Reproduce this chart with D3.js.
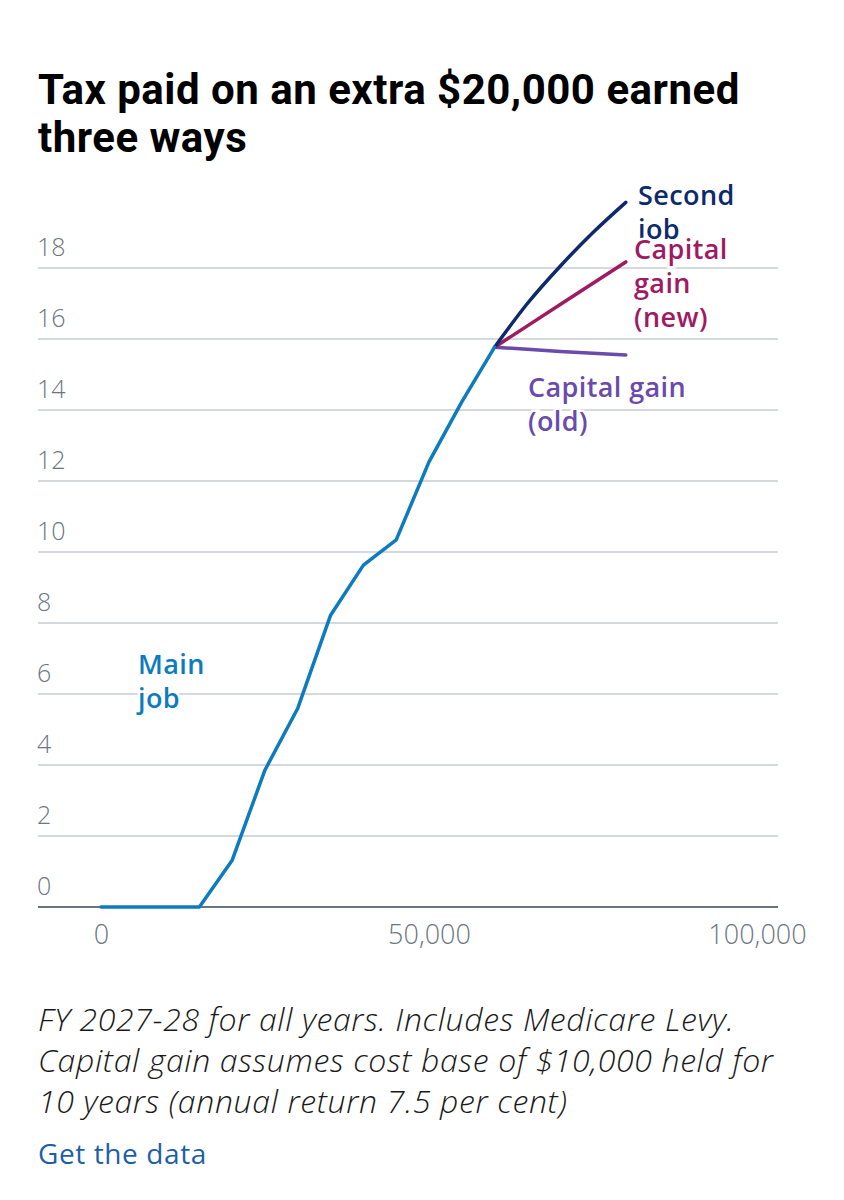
<!DOCTYPE html>
<html>
<head>
<meta charset="utf-8">
<script src="https://cdn.jsdelivr.net/npm/d3@7"></script>
<style>
  body { margin: 0; background: #fff; }
  svg text { font-family: "Open Sans", "Noto Sans", sans-serif; }
</style>
</head>
<body>
<div id="chart"></div>
<script>
// income levels (x) and tax paid on the extra $20,000, in $'000
const mainIncome = [0, 5000, 10000, 15000, 20000, 25000, 30000, 35000, 40000, 45000, 50000, 55000, 60000];
const mainTax = [0, 0, 0, 0, 1.32, 3.86, 5.6, 8.22, 9.63, 10.34, 12.54, 14.23, 15.77];

const branchIncome = [60000, 65000, 70000, 75000, 80000];
const secondJobTax = [15.77, 17.0, 18.05, 19.0, 19.85];
const capGainNewTax = [15.77, 16.37, 16.97, 17.57, 18.17];
const capGainOldTax = [15.77, 15.71, 15.65, 15.6, 15.55];

const yTicks = [0, 2, 4, 6, 8, 10, 12, 14, 16, 18];
const xTicks = [0, 50000, 100000];

const W = 844, H = 1200;
const svg = d3.select('#chart').append('svg').attr('width', W).attr('height', H);

// title
const title = svg.append('text')
    .style('font-family', 'Roboto, sans-serif')
    .style('font-weight', 700)
    .style('font-size', '42px')
    .style('letter-spacing', '0.5px')
    .attr('fill', '#000');
title.append('tspan').attr('x', 38).attr('y', 104).text('Tax paid on an extra $20,000 earned');
title.append('tspan').attr('x', 38).attr('y', 152).text('three ways');

const x = d3.scaleLinear().domain([0, 100000]).range([101, 757]);
const y = d3.scaleLinear().domain([0, 18]).range([907, 268]);

// gridlines
svg.append('g').selectAll('line')
    .data(yTicks.filter(d => d > 0))
    .enter().append('line')
    .attr('x1', 38).attr('x2', 778)
    .attr('y1', d => y(d)).attr('y2', d => y(d))
    .attr('stroke', '#d5d9de').attr('stroke-width', 2);

// y labels
svg.append('g').selectAll('text')
    .data(yTicks)
    .enter().append('text')
    .attr('x', 37).attr('y', d => y(d) - 12)
    .attr('fill', '#6b7681')
    .style('font-size', '25px')
    .style('font-weight', 300)
    .text(d => d);

// x axis
const xAxis = svg.append('g').attr('transform', `translate(0,${y(0)})`)
    .call(d3.axisBottom(x).tickValues(xTicks).tickSize(0).tickPadding(18).tickFormat(d3.format(',')));
xAxis.select('.domain').remove();
xAxis.selectAll('text')
    .attr('fill', '#6b7681')
    .style('font-size', '27px')
    .style('font-weight', 300)
    .style('font-family', '"Open Sans", sans-serif');
svg.append('line')
    .attr('x1', 38).attr('x2', 778)
    .attr('y1', y(0)).attr('y2', y(0))
    .attr('stroke', '#6b7580').attr('stroke-width', 2);

const line = d3.line().x(d => x(d[0])).y(d => y(d[1]));

const series = [
    { income: branchIncome, tax: capGainOldTax, color: '#6a4aab' },
    { income: branchIncome, tax: capGainNewTax, color: '#a01a62' },
    { income: branchIncome, tax: secondJobTax, color: '#0c2a6c', curve: true },
    { income: mainIncome, tax: mainTax, color: '#0d7bbf' }
];

series.forEach(s => {
    const pts = s.income.map((v, i) => [v, s.tax[i]]);
    svg.append('path')
        .datum(pts)
        .attr('d', s.curve ? line.curve(d3.curveMonotoneX)(pts) : line.curve(d3.curveLinear)(pts))
        .attr('fill', 'none')
        .attr('stroke', s.color)
        .attr('stroke-width', 3.5)
        .attr('stroke-linejoin', 'round')
        .attr('stroke-linecap', 'round');
});

// series labels
const labels = [
    { lines: ['Main', 'job'], x: 138, y: 674, color: '#0d7bbf' },
    { lines: ['Second', 'job'], x: 638, y: 205, color: '#0c2a6c' },
    { lines: ['Capital gain', '(old)'], x: 528, y: 397, color: '#6a4aab' },
    { lines: ['Capital', 'gain', '(new)'], x: 634, y: 259, color: '#a01a62' }
];

labels.forEach(l => {
    const t = svg.append('text')
        .attr('fill', l.color)
        .style('font-size', '27px')
        .style('font-weight', 600)
        .style('letter-spacing', '0.4px')
        .attr('stroke', '#fff').attr('stroke-width', 5)
        .attr('paint-order', 'stroke');
    l.lines.forEach((s, i) => {
        t.append('tspan').attr('x', l.x).attr('y', l.y + i * 34).text(s);
    });
});

// footer
const note = svg.append('text')
    .attr('fill', '#1a1a1a')
    .style('font-size', '32px')
    .style('font-style', 'italic')
    .style('font-weight', 300)
    .style('letter-spacing', '0.65px');
['FY 2027-28 for all years. Includes Medicare Levy.',
 'Capital gain assumes cost base of $10,000 held for',
 '10 years (annual return 7.5 per cent)'].forEach((s, i) => {
    note.append('tspan').attr('x', 38).attr('y', 1031 + i * 41).text(s);
});

svg.append('text')
    .attr('x', 38).attr('y', 1164)
    .attr('fill', '#1d5fa6')
    .style('font-size', '28px')
    .style('letter-spacing', '0.6px')
    .text('Get the data');
</script>
</body>
</html>
